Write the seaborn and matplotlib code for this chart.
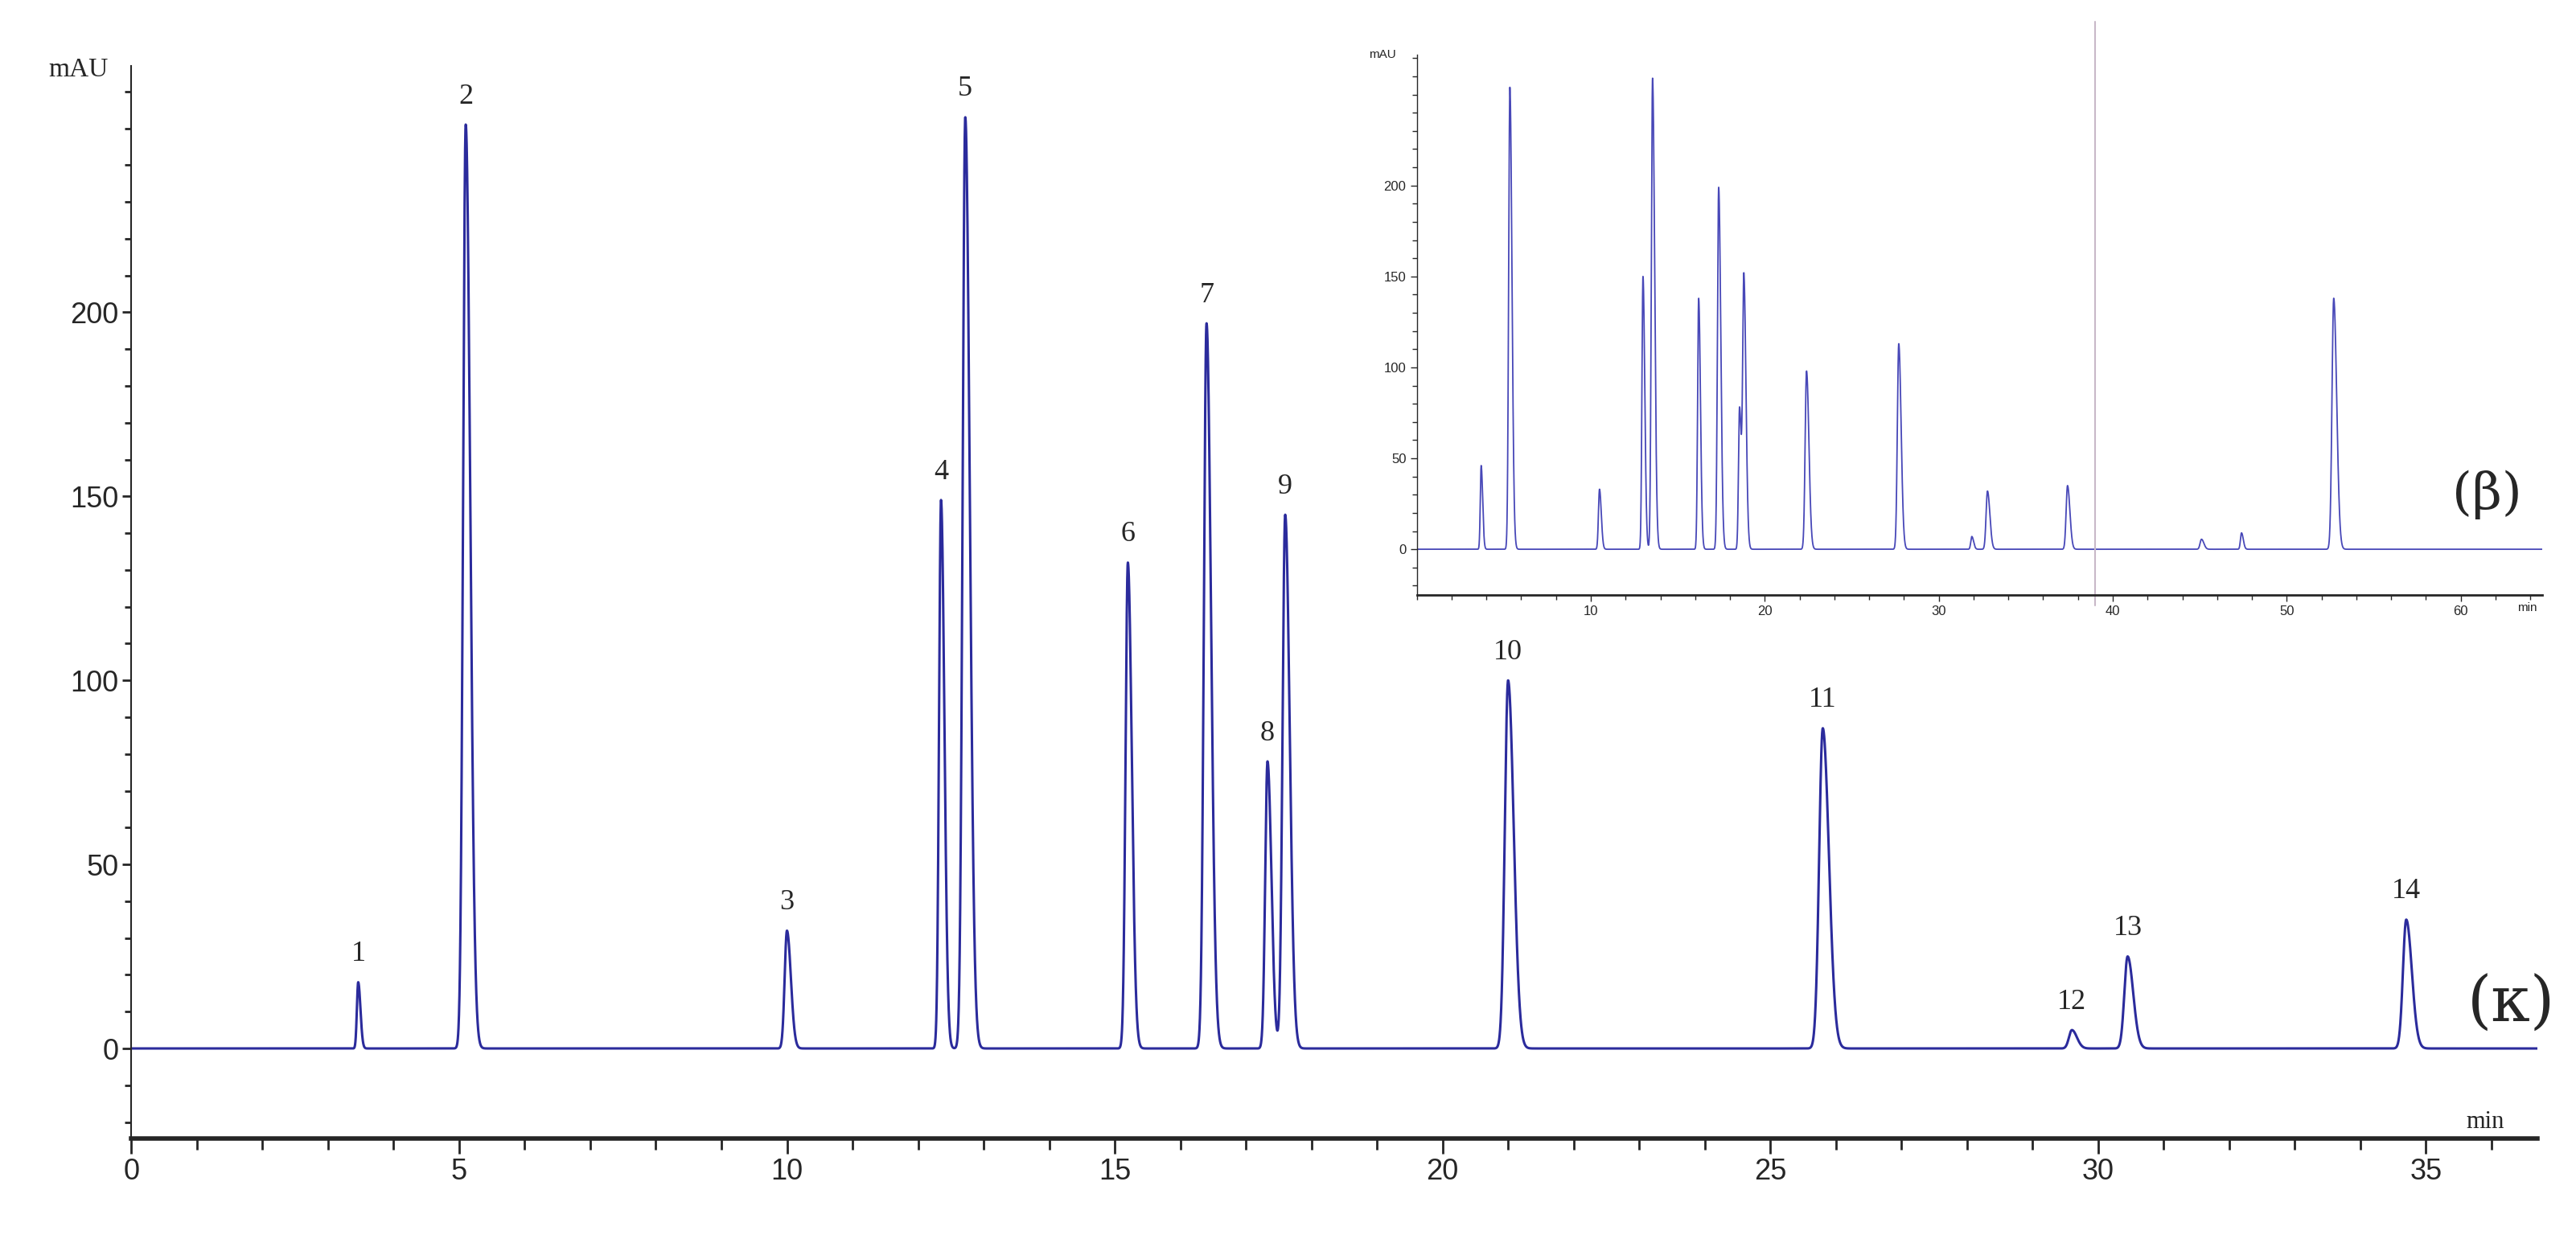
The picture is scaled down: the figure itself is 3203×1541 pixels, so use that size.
import numpy as np
import matplotlib
matplotlib.use("Agg")
import matplotlib.pyplot as plt
import seaborn as sns
from matplotlib.ticker import MultipleLocator

# main chromatogram (κ): peak retention times (min), heights (mAU), widths (sigma, min)
main_times = [3.46, 5.1, 10.0, 12.35, 12.72, 15.2, 16.4, 17.33, 17.6, 21.0, 25.8, 29.6, 30.45, 34.7]
main_heights = [18, 251, 32, 149, 253, 132, 197, 78, 145, 100, 87, 5, 25, 35]
main_sigmas = [0.02, 0.04, 0.035, 0.03, 0.04, 0.035, 0.04, 0.035, 0.04, 0.05, 0.055, 0.045, 0.05, 0.05]
main_labels = ["1", "2", "3", "4", "5", "6", "7", "8", "9", "10", "11", "12", "13", "14"]

# inset chromatogram (β)
ins_times = [3.7, 5.35, 10.5, 13.0, 13.55, 16.2, 17.35, 18.55, 18.8, 22.4, 27.7, 31.9, 32.8, 37.4, 45.1, 47.4, 52.7]
ins_heights = [46, 254, 33, 150, 259, 138, 199, 78, 148, 98, 113, 7, 32, 35, 5.5, 9, 138]
ins_sigmas = [0.05, 0.07, 0.06, 0.06, 0.07, 0.06, 0.07, 0.06, 0.07, 0.08, 0.08, 0.06, 0.08, 0.08, 0.08, 0.06, 0.1]

main_xticks = [0, 5, 10, 15, 20, 25, 30, 35]
main_yticks = [0, 50, 100, 150, 200]
ins_xticks = [10, 20, 30, 40, 50, 60]
ins_yticks = [0, 50, 100, 150, 200]

def trace(t, times, heights, sigmas):
    y = np.zeros_like(t)
    for c, h, s in zip(times, heights, sigmas):
        left = np.exp(-0.5 * ((t - c) / s) ** 2)
        right = np.exp(-0.5 * ((t - c) / (s * 1.7)) ** 2)
        y += h * np.where(t < c, left, right)
    return y

sns.set_style("white")
plt.rcParams['font.family'] = ['Liberation Sans', 'DejaVu Sans']
fig = plt.figure(figsize=(32.03, 15.41), dpi=100)
col = "#2b2b9c"

ax = fig.add_axes([0.051, 0.081, 0.934, 0.866])
t = np.linspace(0, 36.7, 20000)
y = trace(t, main_times, main_heights, main_sigmas)
sns.lineplot(x=t, y=y, ax=ax, color=col, lw=2.2, estimator=None, sort=False)
ax.set_xlim(0, 36.7)
ax.set_ylim(-24.5, 267)
for s in ["top", "right"]:
    ax.spines[s].set_visible(False)
ax.spines["left"].set_linewidth(1.5)
ax.spines["bottom"].set_linewidth(4)
ax.set_xticks(main_xticks)
ax.set_yticks(main_yticks)
ax.xaxis.set_minor_locator(MultipleLocator(1))
ax.yaxis.set_minor_locator(MultipleLocator(10))
ax.tick_params(axis="both", which="major", labelsize=26, length=14, width=2, direction="out")
ax.tick_params(axis="x", which="minor", length=10, width=2)
ax.tick_params(axis="y", which="minor", length=6, width=2)
ax.tick_params(axis="y", which="major", length=8)
ax.tick_params(left=True, bottom=True, which="both")
ax.text(-0.35, 266, "mAU", fontsize=24, family="Liberation Serif", ha="right", va="center")
ax.text(35.9, -20, "min", fontsize=22, family="Liberation Serif", ha="center", va="center")
for c, h, lab in zip(main_times, main_heights, main_labels):
    ax.text(c, h + 4, lab, fontsize=26, family="Liberation Serif", ha="center", va="bottom")
ax.text(36.3, 12, "(κ)", fontsize=56, family="DejaVu Serif", ha="center", va="center")

ai = fig.add_axes([0.550, 0.520, 0.437, 0.436])
ti = np.linspace(0, 64.7, 20000)
yi = trace(ti, ins_times, ins_heights, ins_sigmas)
sns.lineplot(x=ti, y=yi, ax=ai, color="#4848b8", lw=1.3, estimator=None, sort=False)
ai.set_xlim(0, 64.7)
ai.set_ylim(-25, 272)
ai.set_facecolor("none")
for s in ["top", "right"]:
    ai.spines[s].set_visible(False)
ai.spines["left"].set_linewidth(1)
ai.spines["bottom"].set_linewidth(2)
ai.set_xticks(ins_xticks)
ai.set_yticks(ins_yticks)
ai.xaxis.set_minor_locator(MultipleLocator(2))
ai.yaxis.set_minor_locator(MultipleLocator(10))
ai.tick_params(axis="both", which="major", labelsize=12, length=6, width=1, direction="out")
ai.tick_params(which="minor", length=4, width=1)
ai.tick_params(left=True, bottom=True, which="both")
ai.text(-1.2, 272, "mAU", fontsize=11, ha="right", va="center")
ai.text(63.8, -29, "min", fontsize=11, ha="center", va="top")
ai.axvline(39.0, ymin=-0.02, ymax=1.06, color="#c8b8c8", lw=1.5, clip_on=False)
ai.text(61.5, 30, "(β)", fontsize=46, family="DejaVu Serif", ha="center", va="center")

fig.savefig("out.png", dpi=100)
